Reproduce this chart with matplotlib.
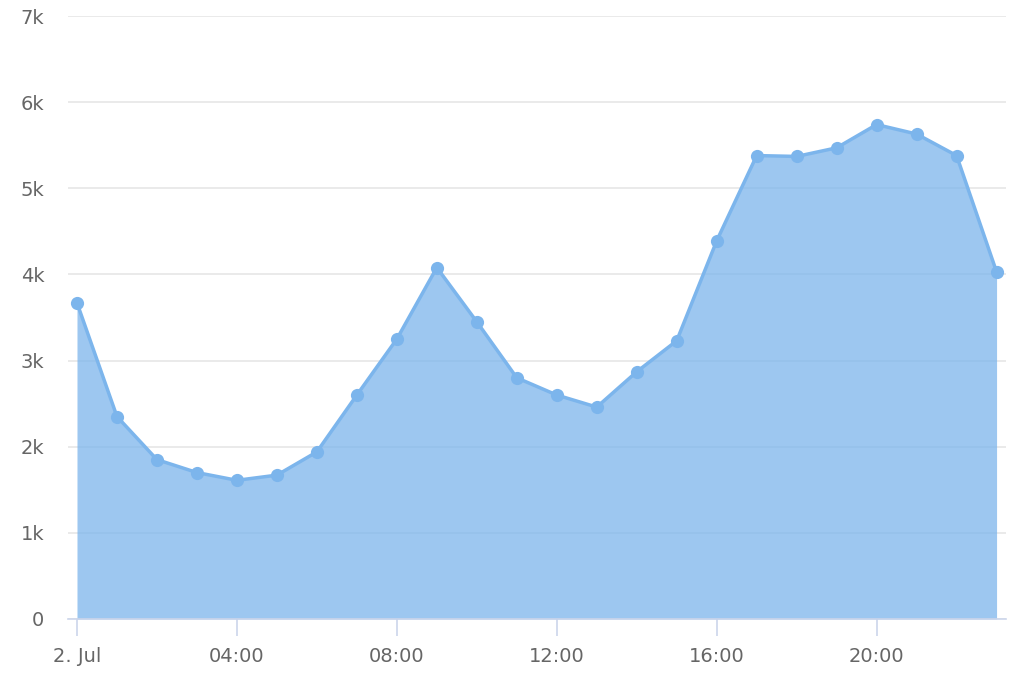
import numpy as np
import matplotlib as mpl
mpl.use('Agg')
import matplotlib.pyplot as plt
from matplotlib.ticker import FixedLocator, FuncFormatter

hours = list(range(24))
values = [3670, 2350, 1850, 1700, 1610, 1670, 1940, 2600, 3250, 4080,
          3450, 2800, 2600, 2460, 2870, 3230, 4390, 5380, 5370, 5470,
          5740, 5630, 5380, 4030]
tick_hours = [0, 4, 8, 12, 16, 20]
tick_labels = ["2. Jul", "04:00", "08:00", "12:00", "16:00", "20:00"]

line_col = '#7cb5ec'
text_col = '#666666'

fig = plt.figure(figsize=(10.24, 6.82), dpi=100)
ax = fig.add_axes([0.0664, 0.0924, 0.9156, 0.8841])

ax.fill_between(hours, values, 0, color=line_col, alpha=0.75, linewidth=0)
ax.plot(hours, values, color=line_col, linewidth=2.5, marker='o',
        markersize=9.5, markerfacecolor=line_col, markeredgewidth=0)

ax.set_xlim(-0.225, 23.225)
ax.set_ylim(0, 7000)

ax.yaxis.set_major_locator(FixedLocator(range(0, 7001, 1000)))
ax.yaxis.set_major_formatter(FuncFormatter(lambda v, p: '0' if v == 0 else '%dk' % (v / 1000)))
ax.set_xticks(tick_hours)
ax.set_xticklabels(tick_labels)

ax.grid(axis='y', color='#e6e6e6', linewidth=1.2)
ax.set_axisbelow(True)
for s in ['top', 'right', 'left']:
    ax.spines[s].set_visible(False)
ax.spines['bottom'].set_color('#ccd6eb')
ax.spines['bottom'].set_linewidth(1.2)

ax.tick_params(axis='y', length=0, pad=17, labelsize=14, labelcolor=text_col)
ax.tick_params(axis='x', length=12, width=1.2, color='#ccd6eb', pad=8,
               labelsize=14, labelcolor=text_col)

fig.savefig('out.png', dpi=100)
